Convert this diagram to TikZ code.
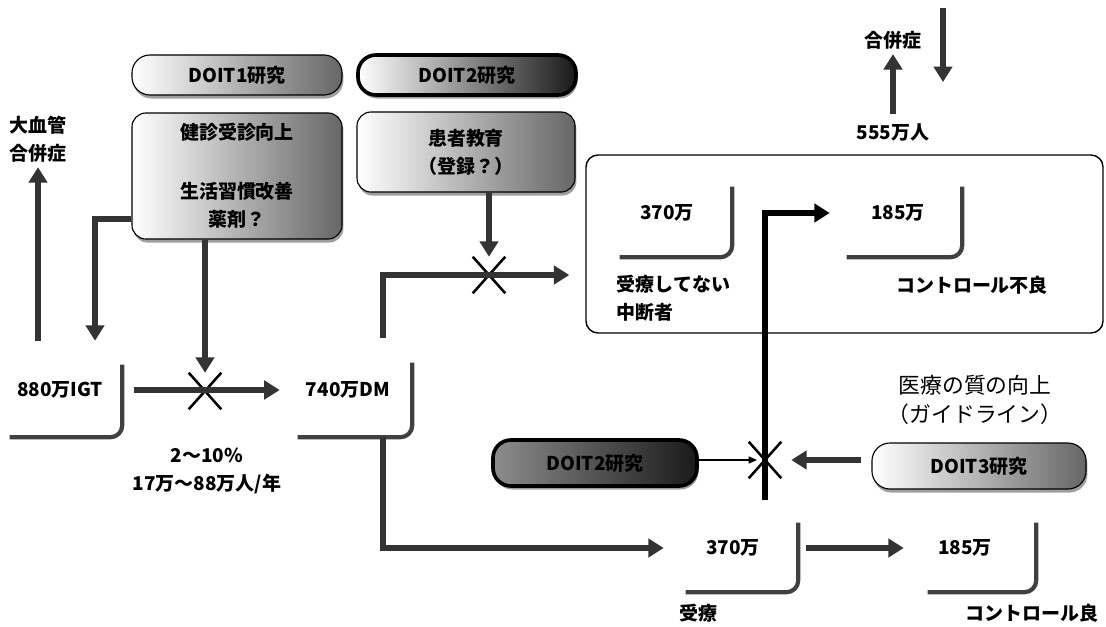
\documentclass[tikz,border=0pt]{standalone}
\usepackage{fontspec}
\setmainfont{Noto Sans CJK JP}
\usetikzlibrary{positioning, arrows.meta, calc, fit, shapes.misc, shadows}
\tikzset{
  pildora/.style={rectangle, rounded corners=0.45cm, minimum height=1cm, draw=black, line width=0.8pt, left color=white, middle color=white, right color=black!60, drop shadow={shadow xshift=1pt, shadow yshift=-2.5pt, fill=black!75}},
  pildoranegra/.style={pildora, line width=2.6pt, right color=black!90},
  caja/.style={rectangle, rounded corners=0.35cm, draw=black, line width=0.8pt, left color=white, middle color=white, right color=black!60, align=center, drop shadow={shadow xshift=1pt, shadow yshift=-2.5pt, fill=black!75}},
  marco/.style={rectangle, rounded corners=0.3cm, draw=black, line width=1pt, inner sep=0pt},
  sombra/.style={line width=3pt, draw=black!75, rounded corners=0.3cm},
  flecha/.style={line width=3.8pt, draw=black!80, -{Triangle[length=11pt,width=13pt]}},
  flechita/.style={line width=1pt, -{Triangle[length=6pt,width=5pt]}},
  cruz/.style={cross out, draw=black, line width=1.8pt, minimum width=0.75cm, minimum height=0.85cm, inner sep=0pt},
  texto/.style={align=center}
}
\newcommand{\cajasombra}[3]{%
  \node[inner sep=0pt, fit={#2 #3}] (#1) {};
  \draw[sombra] (#1.north east) -- (#1.south east) -- (#1.south west);}

\begin{document}
\begin{tikzpicture}[x=0.025cm, y=-0.025cm, every node/.style={font=\fontsize{13.5}{20}\selectfont\bfseries}]
  \useasboundingbox (0,0) rectangle (1106,626);

  % estudios DOIT
  \node (doit1) [pildora, minimum width=5.25cm] at (237,75) {DOIT1研究};
  \node (doit2a) [pildoranegra, minimum width=5.45cm] at (467,75) {DOIT2研究};
  \node (doit2b) [pildoranegra, left color=black!45, minimum width=5.1cm, minimum height=1.15cm] at (595,463) {DOIT2研究};
  \node (doit3) [pildora, minimum width=5.35cm, minimum height=1.15cm] at (979,466) {DOIT3研究};

  \node (kenshin) [caja, minimum width=5.25cm, minimum height=3.15cm] at (237,176) {健診受診向上\\[22pt]生活習慣改善\\薬剤？};
  \node (kyoiku) [caja, minimum width=5.45cm, minimum height=2cm] at (466,152) {患者教育\\（登録？）};

  % textos
  \node (macro) [texto] at (38,139) {大血管\\合併症};
  \node (igt) at (60,390) {880万IGT};
  \node (dm) at (348,390) {740万DM};
  \node (tasa) [texto] at (207,471) {2〜10\%\\17万〜88万人/年};
  \node (gappei) at (893,40) {合併症};
  \node (total) at (893,132) {555万人};
  \node (mikan) at (667,213) {370万};
  \node (furyo) at (898,213) {185万};
  \node (mikanlbl) [align=left, anchor=west] at (612,298) {受療してない\\中断者};
  \node (furyolbl) at (972,285) {コントロール不良};
  \node (jyuryo) at (733,548) {370万};
  \node (ryo) at (965,548) {185万};
  \node (jyuryolbl) at (698,613) {受療};
  \node (ryolbl) at (1032,613) {コントロール良};
  \node (calidad) [texto, font=\fontsize{15.5}{21}\selectfont] at (975,400) {医療の質の向上\\（ガイドライン）};

  % esquinas sombreadas
  \cajasombra{igtbox}{(10,365)}{(122,437)}
  \cajasombra{dmbox}{(298,363)}{(412,437)}
  \cajasombra{mikanbox}{(620,187)}{(732,257)}
  \cajasombra{furyobox}{(847,187)}{(962,257)}
  \cajasombra{jyuryobox}{(686,523)}{(798,592)}
  \cajasombra{ryobox}{(928,523)}{(1036,592)}

  \node (grande) [marco, fit={(586,155) (1103,333)}] {};

  \node (x1) [cruz] at (205,391) {};
  \node (x2) [cruz] at (489,275) {};
  \node (x3) [cruz] at (765,460) {};

  % flechas de la izquierda
  \draw [flecha, shorten <=0.6cm] ($(igtbox.north)+(-28,0)$) -- (macro);
  \draw [flecha, shorten >=0.6cm] ($(kenshin.west)+(0,43)$) -| ($(igtbox.north)+(29,0)$);
  \draw [flecha] (kenshin.south -| x1) -- (x1.north);
  \draw [flecha, shorten <=0.3cm, shorten >=0.45cm] (igtbox.east |- igt) -- (dmbox.west |- dm);

  % DM hacia arriba y hacia abajo
  \draw [flecha, shorten >=0.4cm] ($(dmbox.north)+(28,-25)$) |- (grande.west |- x2);
  \draw [flecha] (kyoiku.south -| x2) -- (x2.north);
  \draw [flecha, shorten >=0.55cm] ($(dmbox.south)+(28,0)$) |- (jyuryobox.west |- jyuryo);
  \draw [flecha, shorten <=0.2cm, shorten >=0.6cm] (jyuryobox.east |- jyuryo) -- (ryobox.west |- ryo);

  % mejora de la calidad
  \coordinate (inicio) at (765,500);
  \draw [flecha, draw=black, shorten >=0.425cm] (inicio) |- (furyobox.west |- furyo);
  \draw [flechita, shorten >=0.2cm] (doit2b.east |- x3) -- (x3.center);
  \draw [flecha, shorten <=0.25cm, shorten >=0.25cm] (doit3.west |- x3) -- (x3.east);

  % complicaciones
  \draw [flecha, shorten <=0.1cm] (total) -- (gappei);
  \coordinate (arriba) at (943,8);
  \coordinate (abajo) at (943,82);
  \draw [flecha] (arriba) -- (abajo);
\end{tikzpicture}
\end{document}
